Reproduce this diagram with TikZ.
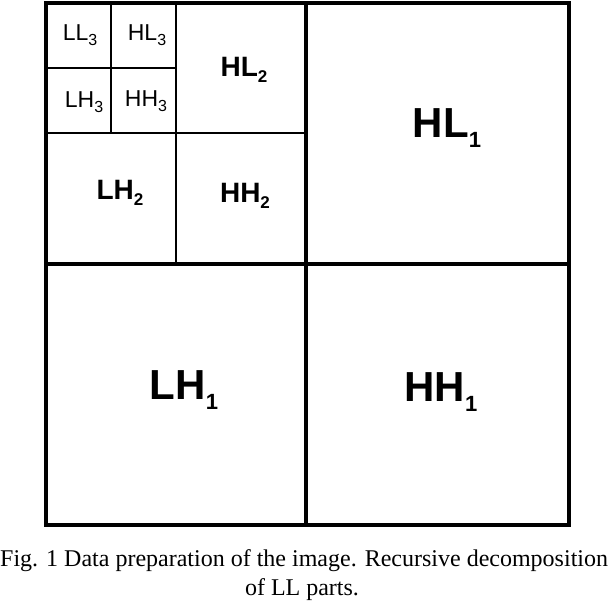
\documentclass[tikz,border=0pt]{standalone}
\usepackage{fontspec}
\setmainfont{Liberation Serif}
\newfontfamily\arialf{Liberation Sans}
\begin{document}
\begin{tikzpicture}[x=1pt,y=-1pt,
  thick line/.style={line width=3.2pt},
  thin line/.style={line width=1.1pt},
  lab/.style={font=\arialf\bfseries, inner sep=0pt},
  captext/.style={font=\fontsize{24}{28}\selectfont, inner sep=0pt}]
\useasboundingbox (0,0) rectangle (610,604);
\clip (0,0) rectangle (610,604);
\draw[thin line] (111,3) -- (111,133) (46,68) -- (176,68);
\draw[thin line] (176,3) -- (176,264) (46,133) -- (306,133);
\draw[thick line] (46,3) rectangle (569,525);
\draw[thick line] (306,3) -- (306,525) (46,264) -- (569,264);
\newcommand{\lbl}[3]{#1\raisebox{-0.45ex}{\fontsize{#3}{#3}\selectfont #2}}
\node[lab,font=\arialf\bfseries\fontsize{42}{42}\selectfont] (hl1) at (447,128) {\lbl{HL}{1}{22}};
\node[lab,font=\arialf\bfseries\fontsize{42}{42}\selectfont] (lh1) at (184,390) {\lbl{LH}{1}{22}};
\node[lab,font=\arialf\bfseries\fontsize{42}{42}\selectfont] (hh1) at (441,392) {\lbl{HH}{1}{22}};
\node[lab,font=\arialf\bfseries\fontsize{28}{28}\selectfont] (hl2) at (244,70) {\lbl{HL}{2}{17}};
\node[lab,font=\arialf\bfseries\fontsize{28}{28}\selectfont] (lh2) at (120,193) {\lbl{LH}{2}{17}};
\node[lab,font=\arialf\bfseries\fontsize{28}{28}\selectfont] (hh2) at (245,196) {\lbl{HH}{2}{17}};
\node[lab,font=\arialf\fontsize{23}{23}\selectfont] (ll3) at (80,35) {\lbl{LL}{3}{16}};
\node[lab,font=\arialf\fontsize{23}{23}\selectfont] (hl3) at (147,35) {\lbl{HL}{3}{16}};
\node[lab,font=\arialf\fontsize{23}{23}\selectfont] (lh3) at (84,102) {\lbl{LH}{3}{16}};
\node[lab,font=\arialf\fontsize{23}{23}\selectfont] (hh3) at (146,101) {\lbl{HH}{3}{16}};
\node[captext,anchor=west] (c1) at (0,561) {Fig. 1 Data preparation of the image. Recursive decomposition};
\node[captext] (c2) at (302,590) {of LL parts.};
\end{tikzpicture}
\end{document}
